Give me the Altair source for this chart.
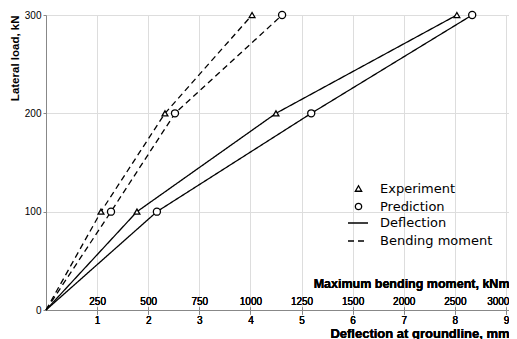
import altair as alt
import pandas as pd

# ---- data ----
loads = [0, 100, 200, 300]                      # kN
defl_experiment = [0, 1.78, 4.50, 8.04]         # mm
defl_prediction = [0, 2.17, 5.19, 8.34]         # mm
moment_experiment = [0, 269, 582, 1008]         # kNm
moment_prediction = [0, 318, 631, 1155]         # kNm

defl_ticks = [1, 2, 3, 4, 5, 6, 7, 8, 9]
moment_ticks = [250, 500, 750, 1000, 1250, 1500, 1750, 2000, 2250]
moment_tick_labels = ["250", "500", "750", "1000", "1250", "1500", "2000", "2500", "3000"]
load_ticks = [0, 100, 200, 300]

series_names = ["Experiment", "Prediction"]
quantity_names = ["Deflection", "Bending moment"]

FONT = "Liberation Sans"
LEGEND_FONT = "DejaVu Sans"
W, H = 463, 295
XMAX = 9.06

defl_rows = []
for name, vals in zip(series_names, [defl_experiment, defl_prediction]):
    for ld, v in zip(loads, vals):
        defl_rows.append({"series": name, "quantity": "Deflection", "load": ld, "deflection": v})
defl_df = pd.DataFrame(defl_rows)

mom_rows = []
for name, vals in zip(series_names, [moment_experiment, moment_prediction]):
    for ld, v in zip(loads, vals):
        mom_rows.append({"series": name, "quantity": "Bending moment", "load": ld, "moment": v})
mom_df = pd.DataFrame(mom_rows)

label_array = "[" + ",".join("'%s'" % s for s in moment_tick_labels) + "]"
moment_label_expr = label_array + "[round(datum.value/250)-1]"
last_moment_tick = moment_ticks[-1]

x_defl = alt.X(
    "deflection:Q",
    scale=alt.Scale(domain=[0, XMAX], nice=False),
    axis=alt.Axis(values=defl_ticks, format="d", orient="bottom",
                  title="Deflection at groundline, mm", titleAnchor="end",
                  tickSize=4, labelPadding=1, titlePadding=2,
                  labelFontSize=10, titleFontSize=13),
)
x_mom = alt.X(
    "moment:Q",
    scale=alt.Scale(domain=[0, XMAX * 250], nice=False),
    axis=alt.Axis(values=moment_ticks, orient="top", offset=-H,
                  labelExpr=moment_label_expr, domain=False,
                  labelAlign={"condition": {"test": f"datum.value == {last_moment_tick}", "value": "right"},
                              "value": "center"},
                  labelOffset={"condition": {"test": f"datum.value == {last_moment_tick}", "value": 3},
                               "value": 0},
                  title="Maximum bending moment, kNm", titleAnchor="end",
                  tickSize=3, labelPadding=1, titlePadding=6,
                  labelFontSize=10, titleFontSize=12.5),
)
y = alt.Y(
    "load:Q",
    scale=alt.Scale(domain=[0, 300], nice=False),
    axis=alt.Axis(values=load_ticks, title="Lateral load, kN", titleAnchor="end",
                  tickSize=3, labelPadding=2, titlePadding=4,
                  labelFontSize=10, titleFontSize=11.5),
)

dash_scale = alt.Scale(domain=quantity_names, range=[[1, 0], [6, 4]])
shape_scale = alt.Scale(domain=series_names, range=["triangle-up", "circle"])
stroke_scale = alt.Scale(domain=series_names, range=["black", "black"])
marker_sizes = {"Experiment": 34, "Prediction": 50}

dash_legend = alt.Legend(title=None, orient="none", legendX=301, legendY=197,
                         symbolSize=400, symbolStrokeColor="black", symbolStrokeWidth=1.3,
                         labelFont=LEGEND_FONT, labelFontSize=13, labelColor="black",
                         labelOffset=11, rowPadding=-2)
shape_legend = alt.Legend(title=None, orient="none", legendX=306, legendY=167,
                          symbolSize=40, symbolStrokeColor="black", symbolFillColor="white",
                          symbolStrokeWidth=1.3, labelFont=LEGEND_FONT, labelFontSize=13,
                          labelColor="black", labelOffset=15, rowPadding=4)

def lines(df, x):
    return alt.Chart(df).mark_line(color="black", strokeWidth=1.3).encode(
        x=x, y=y, detail="series:N",
        strokeDash=alt.StrokeDash("quantity:N", scale=dash_scale, legend=dash_legend),
    )

def points(df, x, series):
    return alt.Chart(df).transform_filter(
        f"datum.load > 0 && datum.series == '{series}'"
    ).mark_point(
        filled=False, fill="white", strokeWidth=1.3, opacity=1,
        size=marker_sizes[series],
    ).encode(
        x=x, y=y,
        shape=alt.Shape("series:N", scale=shape_scale, legend=shape_legend),
        stroke=alt.Stroke("series:N", scale=stroke_scale, legend=shape_legend),
    )

chart = alt.layer(
    lines(defl_df, x_defl),
    points(defl_df, x_defl, "Experiment"), points(defl_df, x_defl, "Prediction"),
    lines(mom_df, x_mom),
    points(mom_df, x_mom, "Experiment"), points(mom_df, x_mom, "Prediction"),
).resolve_scale(x="independent").properties(
    width=W, height=H,
    padding={"left": 38, "top": 7, "right": 0, "bottom": 30},
    autosize=alt.AutoSizeParams(type="none"),
).configure_axis(
    grid=False, domainColor="black", tickColor="black",
    labelColor="black", titleColor="black",
    labelFont=FONT, titleFont=FONT,
    labelFontWeight="bold", titleFontWeight="bold",
).configure_view(stroke=None).configure(background="white")

chart.save("out.html", embed_options={"renderer": "svg", "actions": False})
